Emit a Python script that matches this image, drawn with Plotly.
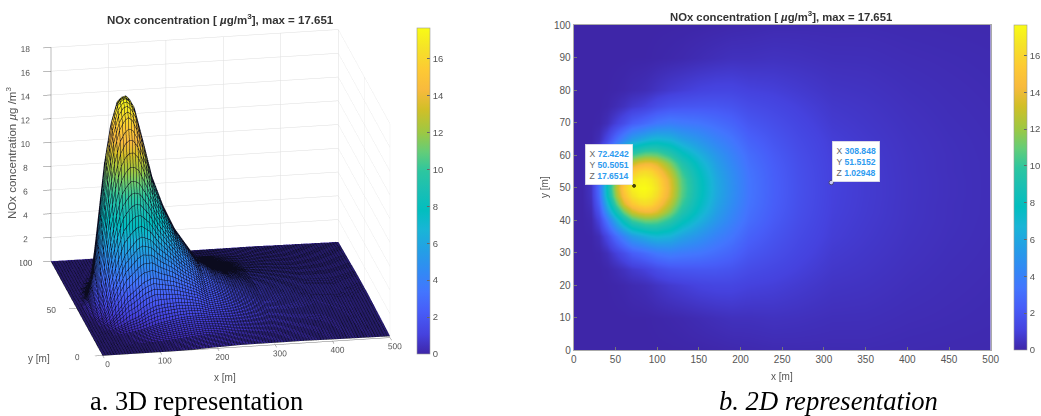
import plotly.graph_objects as go

W, H = 1041, 416

# Grid (metres)
x_m = [0, 10, 20, 30, 40, 50, 60, 70, 78, 85, 92, 100, 115, 130, 150, 170, 190, 210, 240, 270, 310, 350, 400, 450, 500]
y_m = [0, 10, 20, 25, 30, 35, 40, 42.5, 45, 47.5, 50, 52.5, 55, 57.5, 60, 65, 70, 75, 80, 90, 100]

# Concentration at a given distance from the plume axis y = 50
conc_d0 = [0, .02, .5, 3, 8, 12.5, 15.5, 17.2, 17.55, 17.651, 17.3, 16.6, 13.8, 10.8, 8.2, 6.2, 4.8, 3.4, 2.4, 1.7, 1.03, .8, .55, .4, .3]
conc_d2 = [0, .015, .46, 2.8, 7.6, 11.9, 14.8, 16.5, 17.1, 17.2, 16.9, 16.2, 13.55, 10.65, 8.1, 6.13, 4.75, 3.38, 2.38, 1.69, 1.02, .8, .55, .4, .3]
conc_d5 = [0, .01, .35, 2.3, 6.4, 10.4, 13.4, 15.2, 15.9, 16.2, 15.95, 15.1, 12.7, 10.1, 7.8, 5.9, 4.6, 3.3, 2.34, 1.66, 1.01, .79, .54, .39, .3]
conc_d7 = [0, .005, .22, 1.7, 5, 8.4, 11, 12.9, 13.7, 14, 14, 13.5, 11.5, 9.3, 7.3, 5.6, 4.35, 3.15, 2.27, 1.62, .99, .78, .54, .39, .3]
conc_d10 = [0, 0, .12, 1.1, 3.4, 6.2, 8.4, 10.2, 10.8, 11.2, 11.2, 11, 9.8, 8.2, 6.6, 5.2, 4.1, 3.0, 2.17, 1.56, .96, .76, .53, .39, .29]
conc_d15 = [0, 0, .02, .3, 1.3, 2.9, 4.2, 5.4, 5.9, 6.3, 6.7, 6.9, 6.6, 5.8, 5.0, 4.1, 3.4, 2.5, 1.9, 1.4, .9, .71, .5, .37, .28]
conc_d20 = [0, 0, 0, .05, .33, 1.0, 1.6, 2.3, 2.6, 2.9, 3.2, 3.5, 3.8, 3.6, 3.4, 3.0, 2.6, 2.0, 1.6, 1.21, .78, .64, .46, .34, .26]
conc_d25 = [0, 0, 0, 0, .06, .25, .46, .74, .88, 1.03, 1.25, 1.5, 1.83, 1.95, 2.0, 1.97, 1.83, 1.5, 1.26, 1.0, .67, .57, .41, .31, .24]
conc_d30 = [0, 0, 0, 0, .01, .05, .1, .19, .24, .3, .4, .53, .76, .91, 1.1, 1.2, 1.2, 1.05, .95, .78, .55, .49, .36, .28, .22]
conc_d40 = [0, 0, 0, 0, 0, 0, 0, .01, .01, .01, .02, .04, .08, .13, .23, .33, .41, .41, .46, .42, .34, .33, .26, .22, .18]
conc_d50 = [0, 0, 0, 0, 0, 0, 0, 0, 0, 0, 0, 0, .004, .01, .03, .06, .1, .13, .18, .19, .19, .2, .17, .15, .13]

conc_rows = [conc_d50, conc_d40, conc_d30, conc_d25, conc_d20, conc_d15, conc_d10, conc_d7, conc_d5, conc_d2, conc_d0,
             conc_d2, conc_d5, conc_d7, conc_d10, conc_d15, conc_d20, conc_d25, conc_d30, conc_d40, conc_d50]

z_max = 17.651
tip_x = [72.4242, 308.848]
tip_y = [50.5051, 51.5152]
tip_z = ["17.6514", "1.02948"]
tip_marker_fill = ["black", "white"]
tip_marker_line = ["black", "#444444"]
tip_marker_size = [3, 4.5]
cbar_ticks = [0, 2, 4, 6, 8, 10, 12, 14, 16]
x3d_ticks = [0, 100, 200, 300, 400, 500]
y3d_ticks = [0, 50, 100]
z3d_ticks = [0, 2, 4, 6, 8, 10, 12, 14, 16, 18]
x2d_ticks = [0, 50, 100, 150, 200, 250, 300, 350, 400, 450, 500]
y2d_ticks = [0, 10, 20, 30, 40, 50, 60, 70, 80, 90, 100]

parula = [
    [0.00, "rgb(62,38,168)"], [0.06, "rgb(69,66,222)"], [0.13, "rgb(71,93,248)"], [0.19, "rgb(67,117,254)"],
    [0.25, "rgb(50,137,245)"], [0.32, "rgb(35,160,229)"], [0.38, "rgb(25,181,215)"], [0.44, "rgb(2,190,191)"],
    [0.50, "rgb(25,191,180)"], [0.56, "rgb(44,198,160)"], [0.62, "rgb(100,205,120)"], [0.68, "rgb(157,200,67)"],
    [0.75, "rgb(209,191,39)"], [0.81, "rgb(248,186,61)"], [0.87, "rgb(253,201,52)"], [0.94, "rgb(245,227,39)"],
    [1.00, "rgb(249,251,21)"],
]

GREY = "#555555"
SANS = "Liberation Sans, Arial, sans-serif"
SERIF = "Liberation Serif, Times New Roman, serif"


def px_x(v):
    return v / W


def px_y(v):
    return 1 - v / H


def cbar(left, top, bottom):
    return dict(
        x=px_x(left), xanchor="left", xref="paper",
        y=px_y(top), yanchor="top", yref="paper",
        len=(bottom - top) / H, lenmode="fraction",
        thickness=13, thicknessmode="pixels",
        outlinecolor="#999999", outlinewidth=0.6,
        tickvals=cbar_ticks, ticks="inside", ticklen=3, tickcolor="#666666",
        tickfont=dict(family=SANS, size=9.5, color=GREY), xpad=0, ypad=0,
    )


fig = go.Figure()

fig.add_trace(go.Surface(
    x=x_m, y=y_m, z=conc_rows, cmin=0, cmax=z_max, colorscale=parula,
    colorbar=cbar(417, 28, 354),
    lighting=dict(ambient=1, diffuse=0, specular=0, roughness=1, fresnel=0),
    contours=dict(
        x=dict(show=True, start=0, end=500, size=5, color="#0b0b1e", width=1),
        y=dict(show=True, start=0, end=100, size=1, color="#0b0b1e", width=2),
    ),
    hoverinfo="skip",
))

fig.add_trace(go.Heatmap(
    x=x_m, y=y_m, z=conc_rows, zmin=0, zmax=z_max, colorscale=parula, zsmooth="best",
    colorbar=cbar(1014, 25, 350), xaxis="x", yaxis="y", hoverinfo="skip",
))

fig.add_trace(go.Scatter(
    x=tip_x, y=tip_y, mode="markers", xaxis="x", yaxis="y", showlegend=False, hoverinfo="skip",
    marker=dict(size=tip_marker_size, color=tip_marker_fill, line=dict(color=tip_marker_line, width=1)),
))

axis3d = dict(
    showbackground=False, gridcolor="#dddddd", gridwidth=1, showline=True, linecolor="#777777",
    zeroline=False, ticks="outside", ticklen=8, tickcolor="#777777", showspikes=False, title=dict(text=""),
    tickfont=dict(family=SANS, size=10, color=GREY), tickangle=0,
)

R = 1.41
ASPECT = 1.542
fig.update_layout(
    width=W, height=H, autosize=False, margin=dict(l=0, r=0, t=0, b=0, autoexpand=False),
    paper_bgcolor="white", plot_bgcolor="white", showlegend=False,
    scene=dict(
        domain=dict(x=[px_x(20), px_x(421)], y=[px_y(382), px_y(3)]),
        aspectmode="manual", aspectratio=dict(x=ASPECT, y=0.974 * ASPECT, z=0.777 * ASPECT),
        xaxis=dict(axis3d, range=[0, 500], tickvals=x3d_ticks),
        yaxis=dict(axis3d, range=[0, 100], tickvals=y3d_ticks),
        zaxis=dict(axis3d, range=[0, 18], tickvals=z3d_ticks, ticks="inside", ticklen=3),
        camera=dict(
            projection=dict(type="orthographic"),
            up=dict(x=0, y=0, z=1), center=dict(x=0, y=0, z=0),
            eye=dict(x=-R * 0.1715, y=-R * 0.9275, z=R * 0.3375),
        ),
    ),
    xaxis=dict(
        domain=[px_x(573.7), px_x(990.7)], range=[0, 500], tickvals=x2d_ticks, anchor="y",
        ticks="inside", ticklen=3, tickcolor="#777777", showgrid=False, zeroline=False,
        showline=True, linecolor="#aaaaaa", mirror=True,
        tickfont=dict(family=SANS, size=10, color=GREY),
    ),
    yaxis=dict(
        domain=[px_y(350), px_y(25)], range=[0, 100], tickvals=y2d_ticks, anchor="x",
        ticks="inside", ticklen=3, tickcolor="#777777", showgrid=False, zeroline=False,
        showline=True, linecolor="#aaaaaa", mirror=True,
        tickfont=dict(family=SANS, size=10, color=GREY),
    ),
)


def note(text, x, y, size=10, color=GREY, family=SANS, angle=0, **kw):
    fig.add_annotation(text=text, x=px_x(x), y=px_y(y), xref="paper", yref="paper", showarrow=False,
                       xanchor=kw.pop("xanchor", "center"), yanchor="middle", textangle=angle,
                       font=dict(family=family, size=size, color=color), **kw)


TITLE = "<b>NOx concentration [ <i>µ</i>g/m<sup>3</sup>], max = 17.651</b>"
note(TITLE, 220, 19, size=11.5, color="#333333")
note(TITLE, 781, 16, size=11.3, color="#333333")
note("NOx concentration <i>µ</i>g /m<sup>3</sup>", 11, 153, size=11.5, angle=-90)
note("y [m]", 39, 358, size=10)
note("x [m]", 225, 377, size=10)
note("x [m]", 782, 376, size=10)
note("y [m]", 544, 187, size=10, angle=-90)
note("a. 3D representation", 196.5, 401, size=26.4, color="black", family=SERIF)
note("<i>b. 2D representation</i>", 828, 401, size=26.6, color="black", family=SERIF)

for i, (bx, by) in enumerate([(585, 144), (832, 141)]):
    blue = "#2e9bf0"
    lines = (f"X <span style='color:{blue}'><b>{tip_x[i]:g}</b></span><br>"
             f"Y <span style='color:{blue}'><b>{tip_y[i]:g}</b></span><br>"
             f"Z <span style='color:{blue}'><b>{tip_z[i]}</b></span>")
    fig.add_annotation(
        text=lines, x=px_x(bx), y=px_y(by), xref="paper", yref="paper", showarrow=False,
        xanchor="left", yanchor="top", align="left", bgcolor="white", borderpad=4,
        bordercolor="#dddddd", borderwidth=0.5,
        font=dict(family=SANS, size=8.6, color="#666666"),
    )

fig.write_html("out.html", config=dict(displayModeBar=False),
               post_script="document.body.style.margin='0';document.body.style.overflow='hidden';")
